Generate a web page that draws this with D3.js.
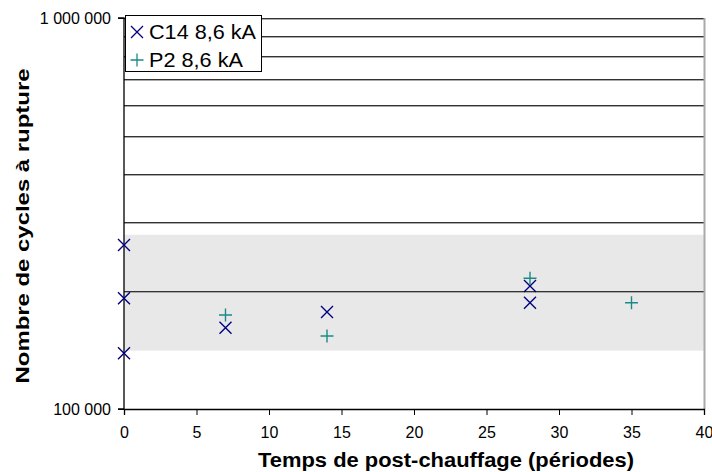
<!DOCTYPE html>
<html><head><meta charset="utf-8">
<script src="https://cdn.jsdelivr.net/npm/d3@7"></script>
<style>body{margin:0;background:#fff}svg{display:block;font-family:"Liberation Sans",Arial,sans-serif}</style>
</head><body>
<svg id="c" width="712" height="472"></svg>
<script>
const c14X = [0, 0, 0, 7, 14, 28, 28];
const c14Y = [262700, 191900, 138800, 161400, 177000, 206400, 187000];
const p2X = [7, 14, 28, 35];
const p2Y = [173900, 153700, 216000, 187000];
const xTicks = [0, 5, 10, 15, 20, 25, 30, 35, 40];
const yTicks = [100000, 1000000];
const gridValues = [200000, 300000, 400000, 500000, 600000, 700000, 800000, 900000, 1000000];
const band = [141000, 279000];
const seriesNames = ["C14 8,6 kA", "P2 8,6 kA"];
const xTitle = "Temps de post-chauffage (périodes)";
const yTitle = "Nombre de cycles à rupture";

const svg = d3.select("#c");
const x = d3.scaleLinear().domain([0, 40]).range([124, 704]);
const y = d3.scaleLog().domain([1e5, 1e6]).range([409, 18]);
const loc = d3.formatLocale({decimal: ",", thousands: " ", grouping: [3], currency: ["", ""]});
const fmt = loc.format(",");

// band
svg.append("rect").attr("x", x(0)).attr("width", x(40) - x(0))
  .attr("y", y(band[1])).attr("height", y(band[0]) - y(band[1])).attr("fill", "#e8e8e8");

// gridlines
const g = svg.append("g");
gridValues.forEach(v => {
  g.append("line").attr("x1", x(0)).attr("x2", x(40)).attr("y1", Math.round(y(v)) + 1.5).attr("y2", Math.round(y(v)) + 1.5)
    .attr("stroke", "#aaa").attr("stroke-width", 1);
  g.append("line").attr("x1", x(0)).attr("x2", x(40)).attr("y1", Math.round(y(v)) + 0.5).attr("y2", Math.round(y(v)) + 0.5)
    .attr("stroke", "#333").attr("stroke-width", 1);
});
// right border
svg.append("line").attr("x1", x(40) + 0.5).attr("x2", x(40) + 0.5).attr("y1", y(1e6)).attr("y2", y(1e5))
  .attr("stroke", "#aaa").attr("stroke-width", 2);

// axes
const xAxis = svg.append("g").attr("transform", `translate(0,${y(1e5)})`)
  .call(d3.axisBottom(x).tickValues(xTicks).tickSize(6).tickPadding(12).tickFormat(d3.format("d")));
const yAxis = svg.append("g").attr("transform", `translate(${x(0)},0)`)
  .call(d3.axisLeft(y).tickValues(yTicks).tickSize(6).tickPadding(7).tickFormat(fmt));
[xAxis, yAxis].forEach(a => {
  a.attr("font-size", 16).attr("font-family", "Liberation Sans, Arial, sans-serif");
  a.select(".domain").attr("stroke", "#000").attr("stroke-width", 1.3);
  a.selectAll(".tick line").attr("stroke", "#000");
  a.selectAll(".tick text").attr("fill", "#000");
});
yAxis.select(".domain").attr("d", `M-6,${y(1e6)}H0V${y(1e5)}H-6`);

// markers
const crossPath = "M-6,-6L6,6M-6,6L6,-6";
const plusPath = "M-6.5,0H6.5M0,-6.5V6.5";
svg.append("g").selectAll("path").data(c14X.map((d, i) => [d, c14Y[i]])).join("path")
  .attr("transform", d => `translate(${x(d[0])},${y(d[1])})`).attr("d", crossPath)
  .attr("stroke", "#000080").attr("stroke-width", 1.4).attr("fill", "none");
svg.append("g").selectAll("path").data(p2X.map((d, i) => [d, p2Y[i]])).join("path")
  .attr("transform", d => `translate(${x(d[0])},${y(d[1])})`).attr("d", plusPath)
  .attr("stroke", "#1a8a88").attr("stroke-width", 1.4).attr("fill", "none");

// legend
const lg = svg.append("g");
lg.append("rect").attr("x", 125.5).attr("y", 15.5).attr("width", 136).attr("height", 56)
  .attr("fill", "#fff").attr("stroke", "#000").attr("stroke-width", 1);
const lgRows = [{n: seriesNames[0], p: crossPath, c: "#000080", y: 32, len: 107},
                {n: seriesNames[1], p: plusPath, c: "#1a8a88", y: 60, len: 94}];
lgRows.forEach(r => {
  lg.append("path").attr("transform", `translate(137,${r.y})`).attr("d", r.p)
    .attr("stroke", r.c).attr("stroke-width", 1.3).attr("fill", "none");
  lg.append("text").attr("x", 149).attr("y", r.y + 7).attr("font-size", 20)
    .attr("textLength", r.len).attr("lengthAdjust", "spacingAndGlyphs").text(r.n);
});

// titles
svg.append("text").attr("x", 446).attr("y", 467).attr("text-anchor", "middle")
  .attr("font-size", 20).attr("font-weight", "bold")
  .attr("textLength", 376).attr("lengthAdjust", "spacingAndGlyphs").text(xTitle);
svg.append("text").attr("transform", "translate(29,226) rotate(-90)").attr("text-anchor", "middle")
  .attr("font-size", 19).attr("font-weight", "bold")
  .attr("textLength", 315).attr("lengthAdjust", "spacingAndGlyphs").text(yTitle);
</script>
</body></html>
